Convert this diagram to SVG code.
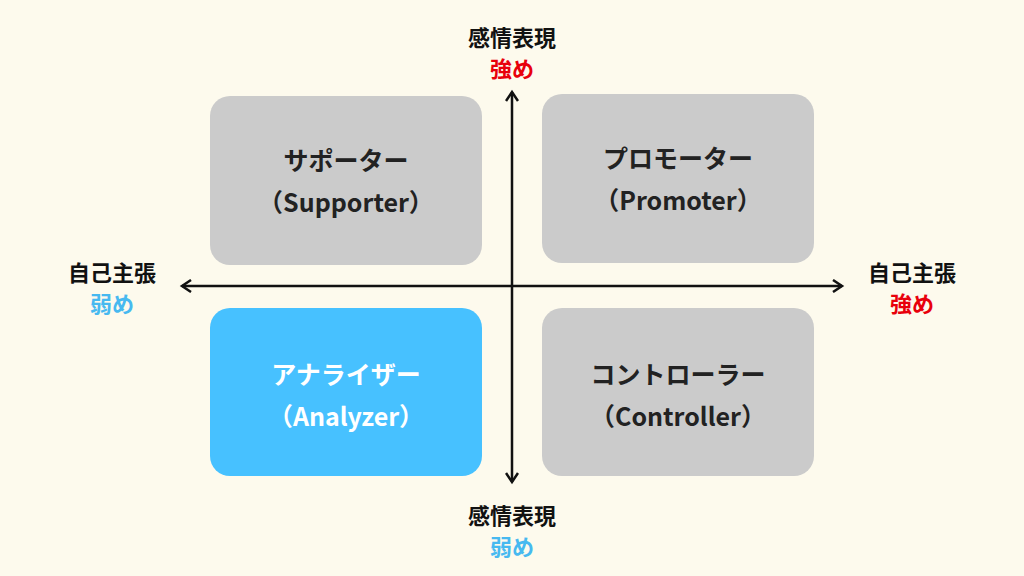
<svg xmlns="http://www.w3.org/2000/svg" width="1024" height="576" viewBox="0 0 1024 576">
<style>
text{font-family:"Noto Sans CJK JP","Noto Sans",sans-serif;font-weight:700;text-anchor:middle}
.box{fill:#cbcbcb}
.lbl{font-size:25px;fill:#222}
.ax{font-size:22px;fill:#111}
.red{fill:#e8000b}.blue{fill:#47b9f0}
.w{fill:#fff}
</style>
<defs><marker id="ah" markerWidth="14" markerHeight="14" refX="11" refY="7" orient="auto-start-reverse" markerUnits="userSpaceOnUse"><path d="M2,1 L11,7 L2,13" fill="none" stroke="#111" stroke-width="2.5"/></marker></defs>
<rect width="1024" height="576" fill="#fdfaed"/>
<g id="supporter"><rect class="box" x="210" y="96" width="272" height="169" rx="20"/><text class="lbl" x="346" y="170">サポーター</text><text class="lbl" x="346" y="212">（Supporter）</text></g>
<g id="promoter"><rect class="box" x="542" y="94" width="272" height="169" rx="20"/><text class="lbl" x="678" y="168">プロモーター</text><text class="lbl" x="678" y="210">（Promoter）</text></g>
<g id="analyzer"><rect x="210" y="308" width="272" height="168" rx="20" fill="#47c1ff"/><text class="lbl w" x="346" y="384">アナライザー</text><text class="lbl w" x="346" y="426">（Analyzer）</text></g>
<g id="controller"><rect class="box" x="542" y="308" width="272" height="168" rx="20"/><text class="lbl" x="678" y="384">コントローラー</text><text class="lbl" x="678" y="426">（Controller）</text></g>
<g id="connectors" stroke="#111" stroke-width="2.5" fill="none">
<line x1="182" y1="286" x2="842" y2="286" marker-start="url(#ah)" marker-end="url(#ah)"/>
<line x1="512" y1="92" x2="512" y2="482" marker-start="url(#ah)" marker-end="url(#ah)"/>
</g>
<g id="labels">
<text class="ax" x="512" y="46">感情表現</text><text class="ax red" x="512" y="77">強め</text>
<text class="ax" x="512" y="524">感情表現</text><text class="ax blue" x="512" y="555">弱め</text>
<text class="ax" x="112" y="281">自己主張</text><text class="ax blue" x="112" y="312">弱め</text>
<text class="ax" x="912" y="281">自己主張</text><text class="ax red" x="912" y="312">強め</text>
</g>
</svg>
